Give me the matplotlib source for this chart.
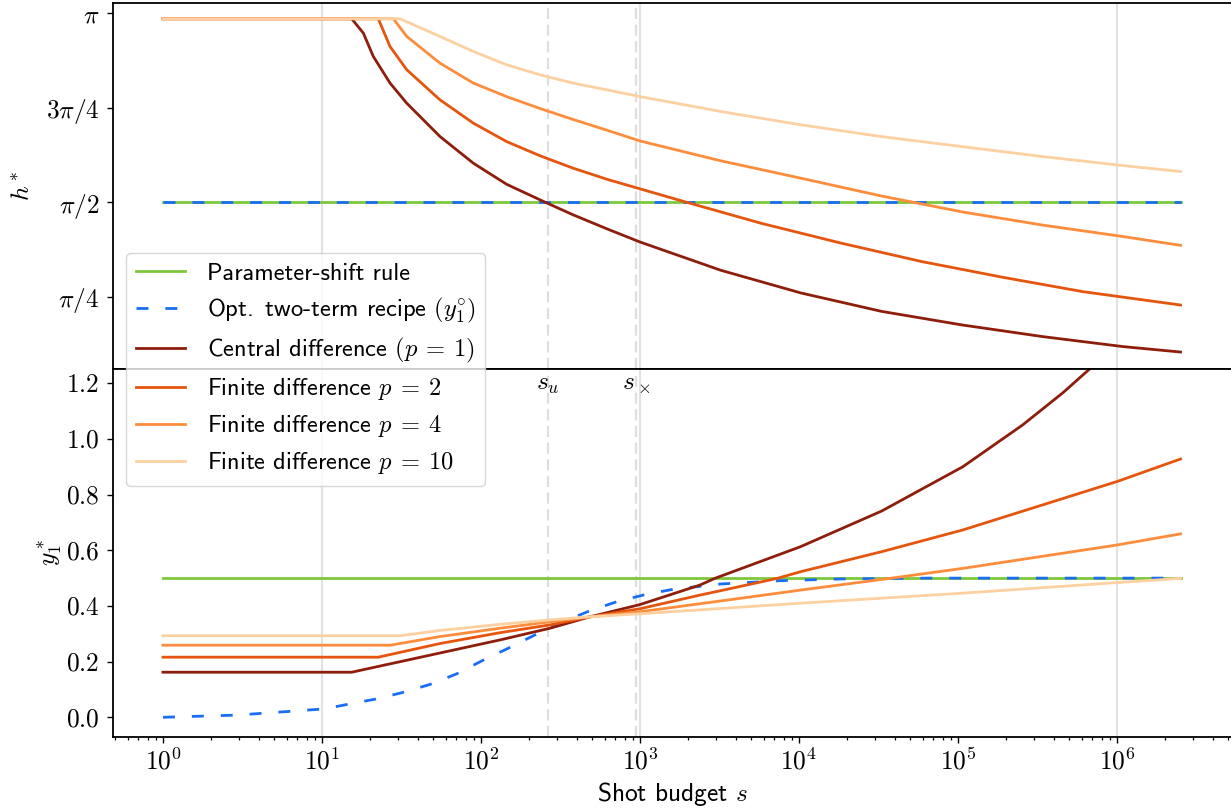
import numpy as np
import matplotlib
matplotlib.use("Agg")
import matplotlib.pyplot as plt
from matplotlib.ticker import FuncFormatter, FixedLocator, LogLocator, NullFormatter

plt.rcParams['font.family'] = ['cmss10', 'DejaVu Sans']
plt.rcParams['mathtext.fontset'] = 'cm'
plt.rcParams['axes.formatter.use_mathtext'] = True
plt.rcParams['axes.unicode_minus'] = False

# ---------------- data (x given as log10 of shot budget s) ----------------
series_labels = [
    "Parameter-shift rule",
    r"Opt.$\,$ two-term recipe $(y_1^{\circ})$",
    r"Central difference $(p\:=\:1)$",
    r"Finite difference $p\:=\:2$",
    r"Finite difference $p\:=\:4$",
    r"Finite difference $p\:=\:10$",
]
series_colors = ['#7cc83a', '#1a6ef5', '#8f1d0b', '#e6550d', '#fd8d3c', '#fdd0a2']

# top panel: optimal shift h*
psr_h_logs = [0.0, 6.40]
psr_h_vals = [np.pi / 2, np.pi / 2]
opt_h_logs = [0.0, 6.40]
opt_h_vals = [np.pi / 2, np.pi / 2]

p1_h_logs = [0.0, 1.187, 1.260, 1.323, 1.428, 1.533, 1.742, 1.952, 2.161, 2.403, 2.581, 2.791, 3.0,
             3.508, 4.013, 4.52, 5.027, 5.535, 6.04, 6.40]
p1_h_vals = [3.096, 3.096, 2.977, 2.782, 2.561, 2.394, 2.117, 1.895, 1.720, 1.571, 1.465, 1.350, 1.240,
             1.005, 0.816, 0.663, 0.550, 0.453, 0.370, 0.325]

p2_h_logs = [0.0, 1.354, 1.428, 1.533, 1.742, 1.952, 2.161, 2.371, 2.581, 2.791, 3.0, 3.254,
             3.761, 4.267, 4.773, 5.28, 5.786, 6.40]
p2_h_vals = [3.096, 3.096, 2.865, 2.672, 2.422, 2.228, 2.075, 1.957, 1.853, 1.762, 1.682, 1.585,
             1.396, 1.230, 1.077, 0.947, 0.827, 0.716]

p4_h_logs = [0.0, 1.449, 1.533, 1.742, 1.952, 2.161, 2.371, 2.581, 2.791, 3.0, 3.508, 4.013,
             4.52, 5.027, 5.535, 6.04, 6.40]
p4_h_vals = [3.096, 3.096, 2.949, 2.727, 2.561, 2.449, 2.350, 2.258, 2.170, 2.080, 1.915, 1.770,
             1.622, 1.490, 1.380, 1.285, 1.212]

p10_h_logs = [0.0, 1.491, 1.742, 1.952, 2.161, 2.371, 2.581, 2.791, 3.0, 3.508, 4.013, 4.52,
              5.027, 5.535, 6.04, 6.40]
p10_h_vals = [3.096, 3.096, 2.949, 2.824, 2.713, 2.630, 2.561, 2.505, 2.449, 2.325, 2.214, 2.116,
              2.033, 1.950, 1.875, 1.826]

# bottom panel: optimal coefficient y1*
psr_y_logs = [0.0, 6.40]
psr_y_vals = [0.5, 0.5]

opt_y_logs = [0.0, 0.467, 1.01, 1.333, 1.50, 1.679, 1.847, 2.013, 2.182, 2.35, 2.518, 2.686,
              2.853, 3.04, 3.21, 3.508, 3.887, 4.265, 4.8, 6.40]
opt_y_vals = [0.0, 0.008, 0.030, 0.065, 0.088, 0.118, 0.156, 0.205, 0.251, 0.299, 0.343, 0.383,
              0.415, 0.442, 0.460, 0.479, 0.491, 0.497, 0.500, 0.500]

p1_y_logs = [0.0, 1.187, 1.742, 2.12, 2.434, 2.686, 3.0, 3.377, 3.47, 4.01, 4.52, 5.03, 5.406,
             5.66, 5.837, 6.0, 6.40]
p1_y_vals = [0.162, 0.162, 0.231, 0.278, 0.320, 0.361, 0.405, 0.475, 0.499, 0.613, 0.741, 0.900,
             1.050, 1.166, 1.256, 1.350, 1.590]

p2_y_logs = [0.0, 1.354, 1.742, 2.12, 2.434, 2.686, 3.0, 3.377, 3.508, 3.862, 4.01, 4.52, 5.03,
             6.0, 6.40]
p2_y_vals = [0.216, 0.216, 0.265, 0.304, 0.332, 0.361, 0.390, 0.439, 0.455, 0.499, 0.523, 0.595,
             0.673, 0.847, 0.928]

p4_y_logs = [0.0, 1.43, 1.742, 2.12, 2.434, 2.686, 3.0, 3.377, 3.508, 4.01, 4.57, 5.03, 6.0, 6.40]
p4_y_vals = [0.259, 0.259, 0.290, 0.320, 0.343, 0.361, 0.379, 0.408, 0.418, 0.457, 0.499, 0.535,
             0.619, 0.659]

p10_y_logs = [0.0, 1.491, 1.742, 2.12, 2.434, 2.686, 3.0, 3.377, 4.01, 5.03, 6.0, 6.40]
p10_y_vals = [0.293, 0.293, 0.312, 0.334, 0.350, 0.361, 0.372, 0.386, 0.410, 0.446, 0.484, 0.499]

# reference shot budgets
s_u = 265
s_cross = 944
grid_s = [1e1, 1e3, 1e6]

x_tick_exponents = [0, 1, 2, 3, 4, 5, 6]
top_ytick_vals = [np.pi / 4, np.pi / 2, 3 * np.pi / 4, np.pi]
top_ytick_labels = [r'$\pi/4$', r'$\pi/2$', r'$3\pi/4$', r'$\pi$']
bot_ytick_vals = [0.0, 0.2, 0.4, 0.6, 0.8, 1.0, 1.2]
bot_ytick_labels = [r'$0.0$', r'$0.2$', r'$0.4$', r'$0.6$', r'$0.8$', r'$1.0$', r'$1.2$']

# ---------------- figure ----------------
W, H = 1231, 809
fig = plt.figure(figsize=(W / 100, H / 100), dpi=100)
left = 113 / W
right = 1233 / W
ax_top = fig.add_axes([left, (H - 369) / H, right - left, (369 - 3) / H])
ax_bot = fig.add_axes([left, (H - 737) / H, right - left, (737 - 369) / H], sharex=ax_top)

FS = 18.3
LW = 2.0

def s_of(logs):
    return np.power(10.0, np.asarray(logs, dtype=float))

top_series = [(psr_h_logs, psr_h_vals), (opt_h_logs, opt_h_vals), (p1_h_logs, p1_h_vals),
              (p2_h_logs, p2_h_vals), (p4_h_logs, p4_h_vals), (p10_h_logs, p10_h_vals)]
bot_series = [(psr_y_logs, psr_y_vals), (opt_y_logs, opt_y_vals), (p1_y_logs, p1_y_vals),
              (p2_y_logs, p2_y_vals), (p4_y_logs, p4_y_vals), (p10_y_logs, p10_y_vals)]

handles = []
for ax, series in ((ax_top, top_series), (ax_bot, bot_series)):
    for gs in grid_s:
        ax.axvline(gs, color='#e2e2e2', lw=1.5, zorder=0.5)
    for sv in (s_u, s_cross):
        ax.axvline(sv, color='#dedede', lw=1.6, ls=(0, (5, 2.5)), zorder=0.6)
    for i, (lg, vals) in enumerate(series):
        ls = (0, (4.3, 6.1)) if i == 1 else '-'
        ln, = ax.plot(s_of(lg), vals, color=series_colors[i], lw=LW, ls=ls,
                      label=series_labels[i], zorder=2 + i * 0.1)
        if ax is ax_top:
            handles.append(ln)

ax_top.set_xscale('log')
ax_top.set_xlim(10 ** -0.3145, 10 ** 6.73)
ax_top.set_ylim(0.184, 3.227)
ax_bot.set_ylim(-0.0708, 1.2514)

ax_top.set_yticks(top_ytick_vals)
ax_top.set_yticklabels(top_ytick_labels)
ax_bot.set_yticks(bot_ytick_vals)
ax_bot.set_yticklabels(bot_ytick_labels)

ax_bot.xaxis.set_major_locator(FixedLocator([10.0 ** e for e in x_tick_exponents]))
ax_bot.xaxis.set_minor_locator(LogLocator(base=10, subs=np.arange(2, 10), numticks=20))
ax_bot.xaxis.set_minor_formatter(NullFormatter())
ax_bot.xaxis.set_major_formatter(FuncFormatter(lambda v, pos: r'$10^{%d}$' % int(round(np.log10(v)))))

ax_top.tick_params(axis='x', which='both', bottom=False, labelbottom=False)
for ax in (ax_top, ax_bot):
    ax.tick_params(axis='y', which='major', labelsize=FS, length=4.3, width=1.0, pad=5.5)
    for sp in ax.spines.values():
        sp.set_linewidth(1.3)
ax_bot.tick_params(axis='x', which='major', labelsize=FS, length=4.3, width=1.0, pad=4)
ax_bot.tick_params(axis='x', which='minor', length=2.5, width=0.9)

ax_top.set_ylabel(r'$h^*$', fontsize=FS, labelpad=8)
ax_bot.set_ylabel(r'$y_1^*$', fontsize=FS, labelpad=1)
ax_bot.set_xlabel(r'Shot budget $s$', fontsize=FS, labelpad=4)

ax_bot.text(s_u, 1.194, r'$s_u$', fontsize=FS, ha='center', va='center')
ax_bot.text(s_cross, 1.194, r'$s_\times$', fontsize=FS, ha='center', va='center')

leg = fig.legend(handles=handles, loc='upper left', bbox_to_anchor=(126 / W, 1 - 253 / H),
                 borderaxespad=0, fontsize=17.6, framealpha=0.8, edgecolor='#cccccc',
                 fancybox=True, handlelength=2.0, handletextpad=0.9, labelspacing=0.45)
leg.set_zorder(10)

fig.savefig('out.png', dpi=100)
